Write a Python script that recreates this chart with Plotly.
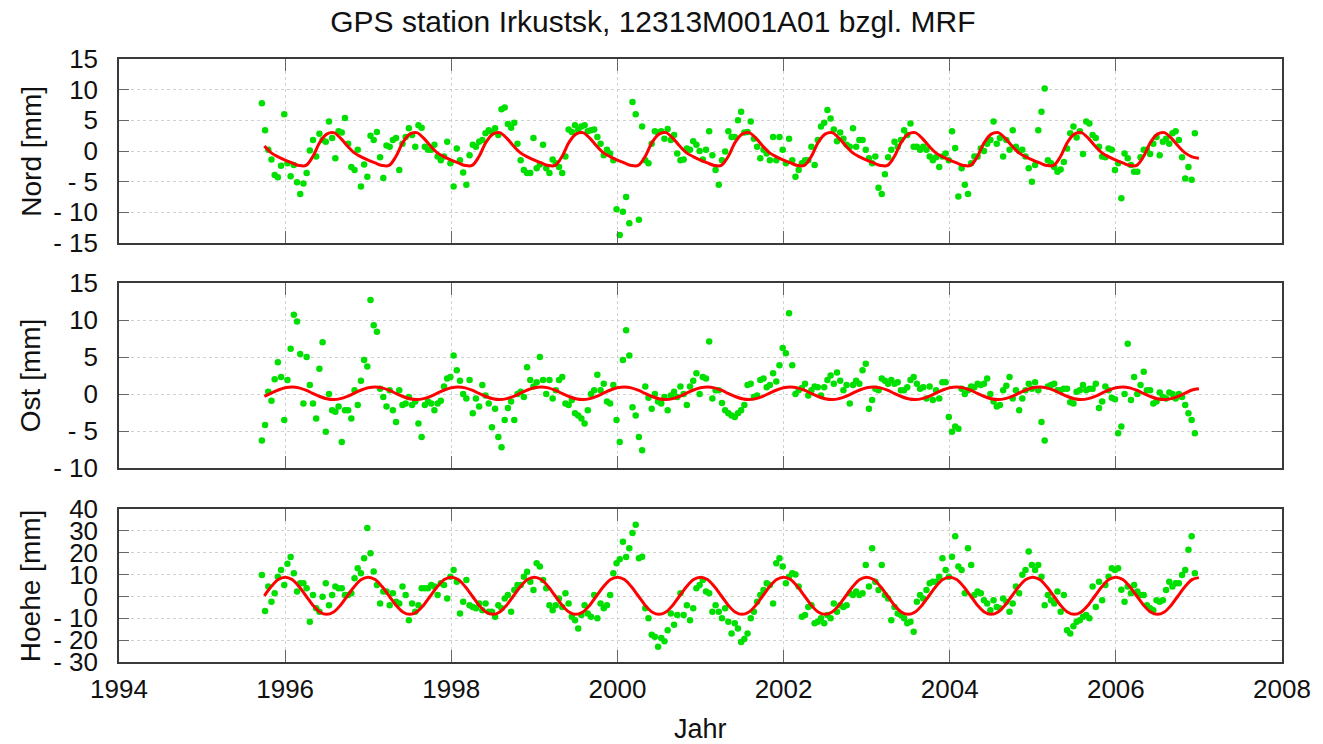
import plotly.graph_objects as go

# ---------------- data ----------------
# observation epochs: start 1995.72, one value every 1/26 year
start_epoch = 1995.72
step_years = 1.0 / 26.0

nord_mm = [
    # 1995
    7.8, 3.4, 0.2, -1.4, -3.9, -4.3, -2.4, 6.0,
    # 1996
    -2.0, -4.1, -2.3, -5.1, -7.0, -5.3, -3.6, 0.1, 1.8, -0.9, 2.8, 1.8, 1.5, 4.8, 2.1, -1.2,
    3.2, 3.0, 5.4, 1.2, -2.6, -3.1, 0.2, -5.8, -2.2, -4.2,
    # 1997
    2.5, 1.8, 3.1, -1.0, -4.4, 0.9, 0.7, 1.8, 2.1, -3.1, 1.2, 2.3, 3.7, 2.6, 0.7, 4.2,
    3.8, 0.7, 0.2, 0.2, 1.0, -0.9, -1.5, -0.9, 1.5, -2.0,
    # 1998
    -5.8, 0.4, -1.5, -3.5, -5.5, -0.7, 1.0, 0.7, 1.5, 1.8, 2.9, 3.4, 3.1, 3.7, 2.6, 6.8,
    7.1, 4.4, 3.8, 4.6, 1.2, -1.5, -3.1, -3.6, -3.6, 2.1,
    # 1999
    -2.8, -2.2, 1.0, -2.8, -3.6, -1.4, -2.0, -2.6, -3.6, -0.9, 3.5, 3.1, 4.2, 3.4, 4.0, 4.2,
    3.2, 3.4, 3.5, 2.3, 1.2, -0.7, 0.2, -0.4, -1.5, -9.5,
    # 2000
    -13.7, -9.9, -7.5, -11.8, 8.0, 6.0, -11.2, 4.0, -1.5, -2.0, 1.2, 3.2, 3.0, 3.2, 2.0, 3.6,
    1.8, 2.6, -0.4, -1.5, -1.4, 0.4, 0.2, 1.6, 1.0, 0.0,
    # 2001
    -1.4, 0.2, 3.2, -0.7, -3.1, -5.5, -1.5, -0.1, 3.2, 2.3, 2.3, 5.0, 6.4, 3.0, 3.1, 4.8,
    2.0, 0.7, -1.2, 0.2, -0.4, -1.5, 2.3, -1.5, 2.3, 0.2,
    # 2002
    -2.0, 2.0, -1.5, -4.2, -3.1, -2.0, -1.5, -1.5, 0.7, -2.3, 1.8, 4.0, 4.6, 6.7, 5.3, 3.5,
    1.6, 3.0, 2.0, 1.0, 0.7, 3.7, 0.7, 1.8, 1.8, 0.2,
    # 2003
    -1.2, -2.0, -0.9, -6.0, -7.0, -3.8, -1.0, 0.2, 1.5, 0.7, 1.8, 3.4, 2.6, 4.5, 0.7, 0.7,
    0.2, 0.7, 0.2, -0.9, -1.5, -1.0, -2.6, -0.9, -0.4, -1.5,
    # 2004
    3.2, 0.5, -7.4, -2.8, -5.5, -7.0, -2.0, -0.9, -0.9, 0.4, 0.0, 1.2, 1.8, 4.8, 1.2, 2.1,
    -0.9, 1.8, 0.2, 3.4, 0.7, 0.0, 0.2, -0.9, -2.8, -5.0,
    # 2005
    -2.3, 3.4, 6.4, 10.2, -1.5, -2.0, -2.6, -3.4, -3.0, -1.8, 0.4, 2.9, 4.0, 2.2, 3.2, -0.5,
    4.8, 4.5, 2.6, 2.1, 0.7, -0.9, -1.0, 0.4, 0.2, -3.1,
    # 2006
    -2.0, -7.7, -0.4, -1.2, -2.3, -3.4, -3.4, -1.0, 0.2, 0.2, -0.5, 1.2, 2.3, -0.7, 1.5, 2.0,
    1.2, 2.9, 3.2, 1.8, -1.0, -4.5, -2.6, -4.7, 2.9,
]

ost_mm = [
    # 1995
    -6.3, -4.2, 0.3, -0.9, 2.0, 4.3, 2.3, -3.5,
    # 1996
    1.9, 6.1, 10.7, 9.8, 5.4, -1.3, 5.0, 1.2, -1.3, -3.3, 3.4, 7.0, -5.1, 0.0, -2.2, -2.4,
    -1.7, -6.5, -2.2, -2.2, -3.3, 0.5, -1.5, 1.8, 4.6, 3.7,
    # 1997
    12.7, 9.3, 8.4, 0.7, -0.4, -1.7, 0.5, -2.2, -3.8, 0.5, -1.5, -1.3, -0.4, -1.5, -1.0, -4.0,
    -5.8, -1.5, -1.0, -1.3, -2.2, -1.3, -0.9, 1.0, 2.1, 2.3,
    # 1998
    5.2, 3.2, 1.8, 0.0, -0.6, 1.9, -2.6, -0.6, -1.7, 1.2, -0.2, -1.3, -4.5, -2.0, -5.8, -7.2,
    -3.5, -1.9, -1.0, -3.5, 0.0, 0.3, -0.4, 3.6, 1.9, 1.0,
    # 1999
    1.6, 5.0, 1.9, 0.0, 1.9, -0.6, 0.5, 1.9, 2.3, -1.3, -1.5, -0.8, -2.6, -2.9, -3.3, -4.0,
    -2.2, 0.0, 0.5, 2.6, 0.5, 1.4, -1.0, -1.3, 1.2, -3.5,
    # 2000
    -6.5, 4.6, 8.6, 5.2, -1.8, -2.9, -5.8, -7.6, 1.0, -0.5, -2.0, 0.0, -1.0, -1.3, -0.4, -2.2,
    -0.2, 0.3, -0.4, 1.0, 0.0, -1.5, 1.0, 1.8, 2.8, 0.0,
    # 2001
    2.3, 2.1, 7.1, -0.6, 0.5, 0.5, -1.2, -2.2, -2.6, -2.9, -3.1, -2.6, -2.2, -1.5, 1.2, 1.4,
    -0.4, -0.2, 1.9, 2.1, 0.9, 1.2, 2.8, 1.7, 3.9, 6.2,
    # 2002
    5.5, 10.9, 3.9, 0.0, 0.5, 0.8, 1.4, -0.2, 0.5, 1.0, 0.9, -0.2, 0.9, 1.9, 2.5, 1.4,
    2.9, 1.8, 0.5, 1.2, -1.3, 1.2, 1.8, 1.4, 3.2, 4.1,
    # 2003
    -2.0, -0.8, 0.7, 0.5, 2.1, 1.8, 1.4, 1.9, 1.4, 1.6, 0.5, 0.5, 0.9, 1.9, 2.3, 1.4,
    0.7, 0.9, -0.6, 1.0, -0.8, 0.5, -0.6, 1.6, 1.6, -3.1,
    # 2004
    -5.1, -4.4, -4.7, 0.7, 0.0, 0.5, 1.0, 0.9, 1.4, 1.2, 1.4, 2.1, 0.0, -1.0, -1.7, -1.5,
    0.5, 1.1, 2.3, -0.6, 0.5, -2.2, -0.6, 0.5, 1.4, 0.7,
    # 2005
    1.6, 0.5, -3.8, -6.3, 1.0, 1.2, 1.4, 0.5, 0.5, 0.7, 0.7, -1.1, -1.3, 0.3, 0.5, 1.2,
    0.5, 0.7, 0.7, 1.4, -1.9, -1.0, 1.0, 0.5, -0.5, -0.7,
    # 2006
    -5.3, -4.4, 0.0, 6.8, -0.8, 2.3, 0.0, 1.2, 3.0, 0.5, 0.5, -1.3, -1.0, 0.2, -0.4, -0.6,
    0.2, 0.0, -0.6, 0.0, -0.4, -1.5, -2.6, -3.5, -5.3,
]

hoehe_mm = [
    # 1995
    9.8, -6.7, 4.5, -2.4, 1.4, 9.0, 12.1, 5.2,
    # 1996
    15.0, 18.0, 10.6, 2.2, 6.0, 6.0, 3.7, -11.6, 0.6, -5.4, -7.0, -0.1, 6.0, -4.0, 0.6, 4.5,
    3.7, 3.7, 0.6, 0.6, 1.4, 8.3, 12.9, 10.6, 17.5, 31.3,
    # 1997
    19.8, 11.4, 5.2, -3.2, 2.2, 2.2, -4.0, 1.4, -2.4, -3.2, 4.5, 0.6, -10.9, -3.2, -7.0, -4.0,
    3.7, 3.7, 3.7, 5.2, 4.5, 0.6, 6.0, 5.2, -0.9, 9.0,
    # 1998
    12.1, 6.7, -7.8, -2.4, 7.5, -4.0, -4.8, -5.4, -3.2, -6.3, -3.2, -7.0, -7.0, -9.3, -4.0, -5.4,
    -0.9, 0.6, -7.0, 2.9, 5.2, 5.2, 9.0, 11.3, 6.7, 2.9,
    # 1999
    15.2, 13.7, 7.5, 3.7, -4.0, -6.3, -4.0, -0.9, -4.8, 1.4, -3.2, -9.3, -10.9, -14.7, -8.5, -4.0,
    -7.8, -9.3, 0.6, -10.0, -3.2, -5.4, -4.0, 0.6, 10.6, 15.2,
    # 2000
    17.0, 25.0, 18.0, 22.0, 29.0, 32.8, 17.5, 18.2, -5.4, -10.0, -17.5, -18.5, -23.0, -19.0, -20.5, -15.5,
    -7.8, -13.0, -8.5, 1.4, -8.5, -4.0, -10.9, -5.4, 3.7, 5.2,
    # 2001
    7.5, 2.2, 1.4, -7.0, -4.0, -7.0, -10.0, -5.4, -11.6, -17.0, -12.3, -14.7, -20.8, -19.5, -17.0, -10.0,
    -7.0, -2.4, 0.6, 2.9, 6.0, 5.2, -3.2, 15.2, 17.5, 13.7,
    # 2002
    6.0, 9.0, 10.6, 10.0, 4.5, -9.3, -8.5, -4.8, -4.0, -12.3, -11.6, -10.0, -12.3, -8.5, -10.0, -3.2,
    -7.0, -4.0, -4.8, -4.0, 1.4, 0.6, 2.2, 0.6, 1.4, 14.4,
    # 2003
    4.5, 22.0, 6.7, 2.9, 14.4, 0.6, -0.9, -10.9, -4.8, -7.8, -8.5, -10.0, -12.3, -11.6, -16.2, -2.4,
    0.6, -0.9, 2.9, 6.0, 6.7, 6.7, 9.0, 17.5, 12.1, 9.0,
    # 2004
    18.2, 27.5, 13.7, 12.1, 1.4, 22.0, 14.4, 0.6, 2.2, 1.4, -1.7, -3.2, -6.3, -1.7, -4.8, -5.4,
    -0.9, -2.4, -7.0, -3.2, 4.5, 1.4, 9.9, 12.1, 20.5, 14.4,
    # 2005
    12.1, 14.4, 9.0, -4.0, 0.6, -1.7, -3.2, 2.2, -7.0, 0.6, -15.5, -17.0, -13.7, -11.6, -10.9, -9.3,
    -8.5, -10.0, 4.5, -4.8, 6.7, -1.7, 5.2, 9.0, 12.9, 12.1,
    # 2006
    12.9, 3.0, -2.4, 4.5, 1.4, 5.2, 2.2, 0.6, 0.6, -4.0, -5.4, -6.3, -1.7, -2.4, -1.7, 2.9,
    6.7, 4.5, 6.0, 6.0, 9.8, 12.1, 21.3, 27.5, 10.6,
]

# fitted seasonal model (start 1995.75, monthly)
fit_start = 1995.75
fit_step = 1.0 / 12.0

nord_fit = [
    0.8, -0.3, -0.95,
    -1.5, -1.95, -2.35, -2.35, -0.9, 1.4, 2.75, 3.0, 2.1, 0.8, -0.3, -0.95,
    -1.5, -1.95, -2.35, -2.35, -0.9, 1.4, 2.75, 3.0, 2.1, 0.8, -0.3, -0.95,
    -1.5, -1.95, -2.35, -2.35, -0.9, 1.4, 2.75, 3.0, 2.1, 0.8, -0.3, -0.95,
    -1.5, -1.95, -2.35, -2.35, -0.9, 1.4, 2.75, 3.0, 2.1, 0.8, -0.3, -0.95,
    -1.5, -1.95, -2.35, -2.35, -0.9, 1.4, 2.75, 3.0, 2.1, 0.8, -0.3, -0.95,
    -1.5, -1.95, -2.35, -2.35, -0.9, 1.4, 2.75, 3.0, 2.1, 0.8, -0.3, -0.95,
    -1.5, -1.95, -2.35, -2.35, -0.9, 1.4, 2.75, 3.0, 2.1, 0.8, -0.3, -0.95,
    -1.5, -1.95, -2.35, -2.35, -0.9, 1.4, 2.75, 3.0, 2.1, 0.8, -0.3, -0.95,
    -1.5, -1.95, -2.35, -2.35, -0.9, 1.4, 2.75, 3.0, 2.1, 0.8, -0.3, -0.95,
    -1.5, -1.95, -2.35, -2.35, -0.9, 1.4, 2.75, 3.0, 2.1, 0.8, -0.3, -0.95,
    -1.5, -1.95, -2.35, -2.35, -0.9, 1.4, 2.75, 3.0, 2.1, 0.8, -0.3, -0.95,
    -1.2,
]

ost_fit = [
    -0.31, 0.12, 0.54,
    0.84, 0.95, 0.83, 0.51, 0.08, -0.34, -0.64, -0.75, -0.63, -0.31, 0.12, 0.54,
    0.84, 0.95, 0.83, 0.51, 0.08, -0.34, -0.64, -0.75, -0.63, -0.31, 0.12, 0.54,
    0.84, 0.95, 0.83, 0.51, 0.08, -0.34, -0.64, -0.75, -0.63, -0.31, 0.12, 0.54,
    0.84, 0.95, 0.83, 0.51, 0.08, -0.34, -0.64, -0.75, -0.63, -0.31, 0.12, 0.54,
    0.84, 0.95, 0.83, 0.51, 0.08, -0.34, -0.64, -0.75, -0.63, -0.31, 0.12, 0.54,
    0.84, 0.95, 0.83, 0.51, 0.08, -0.34, -0.64, -0.75, -0.63, -0.31, 0.12, 0.54,
    0.84, 0.95, 0.83, 0.51, 0.08, -0.34, -0.64, -0.75, -0.63, -0.31, 0.12, 0.54,
    0.84, 0.95, 0.83, 0.51, 0.08, -0.34, -0.64, -0.75, -0.63, -0.31, 0.12, 0.54,
    0.84, 0.95, 0.83, 0.51, 0.08, -0.34, -0.64, -0.75, -0.63, -0.31, 0.12, 0.54,
    0.84, 0.95, 0.83, 0.51, 0.08, -0.34, -0.64, -0.75, -0.63, -0.31, 0.12, 0.54,
    0.84, 0.95, 0.83, 0.51, 0.08, -0.34, -0.64, -0.75, -0.63, -0.31, 0.12, 0.54,
    0.7,
]

hoehe_fit = [
    0.3, 4.5, 7.7,
    8.8, 7.7, 4.5, 0.3, -4.0, -7.1, -8.2, -7.1, -4.0, 0.3, 4.5, 7.7,
    8.8, 7.7, 4.5, 0.3, -4.0, -7.1, -8.2, -7.1, -4.0, 0.3, 4.5, 7.7,
    8.8, 7.7, 4.5, 0.3, -4.0, -7.1, -8.2, -7.1, -4.0, 0.3, 4.5, 7.7,
    8.8, 7.7, 4.5, 0.3, -4.0, -7.1, -8.2, -7.1, -4.0, 0.3, 4.5, 7.7,
    8.8, 7.7, 4.5, 0.3, -4.0, -7.1, -8.2, -7.1, -4.0, 0.3, 4.5, 7.7,
    8.8, 7.7, 4.5, 0.3, -4.0, -7.1, -8.2, -7.1, -4.0, 0.3, 4.5, 7.7,
    8.8, 7.7, 4.5, 0.3, -4.0, -7.1, -8.2, -7.1, -4.0, 0.3, 4.5, 7.7,
    8.8, 7.7, 4.5, 0.3, -4.0, -7.1, -8.2, -7.1, -4.0, 0.3, 4.5, 7.7,
    8.8, 7.7, 4.5, 0.3, -4.0, -7.1, -8.2, -7.1, -4.0, 0.3, 4.5, 7.7,
    8.8, 7.7, 4.5, 0.3, -4.0, -7.1, -8.2, -7.1, -4.0, 0.3, 4.5, 7.7,
    8.8, 7.7, 4.5, 0.3, -4.0, -7.1, -8.2, -7.1, -4.0, 0.3, 4.5, 7.7,
    8.6,
]

panel_titles = ["Nord [mm]", "Ost [mm]", "Hoehe [mm]"]
nord_ticks = [-15, -10, -5, 0, 5, 10, 15]
ost_ticks = [-10, -5, 0, 5, 10, 15]
hoehe_ticks = [-30, -20, -10, 0, 10, 20, 30, 40]
year_ticks = [1994, 1996, 1998, 2000, 2002, 2004, 2006, 2008]
title_text = "GPS station Irkustsk, 12313M001A01 bzgl. MRF"
xlabel_text = "Jahr"

# ---------------- figure ----------------
def epochs(n, t0, dt):
    return [t0 + i * dt for i in range(n)]

def labels(vals):
    return [("- " + str(abs(v))) if v < 0 else str(v) for v in vals]

FONT = "Liberation Sans, Arial, sans-serif"
GREEN = "#00e000"
RED = "#ff0000"
GRID = "#d2d2d2"
AXC = "#3a3a3a"
TXT = "#111111"

fig = go.Figure()
series = [(nord_mm, nord_fit, "y"), (ost_mm, ost_fit, "y2"), (hoehe_mm, hoehe_fit, "y3")]
xrefs = ["x", "x2", "x3"]
for (obs, fit, yref), xr in zip(series, xrefs):
    fig.add_trace(go.Scatter(x=epochs(len(obs), start_epoch, step_years), y=obs, mode="markers",
                             marker=dict(color=GREEN, size=6.5), xaxis=xr, yaxis=yref,
                             showlegend=False, hoverinfo="x+y"))
    fig.add_trace(go.Scatter(x=epochs(len(fit), fit_start, fit_step), y=fit, mode="lines",
                             line=dict(color=RED, width=3, shape="spline", smoothing=1.0),
                             xaxis=xr, yaxis=yref, showlegend=False))

H = 744.0
top_px, bot_px = 59.0, 662.0
ph = bot_px - top_px
def dom(a, b):  # pixel top, pixel bottom -> paper domain
    return [(bot_px - b) / ph, (bot_px - a) / ph]

doms = [dom(59, 243), dom(283, 468), dom(509, 662)]

xcommon = dict(range=[1994, 2008], tickvals=year_ticks, ticktext=[str(v) for v in year_ticks],
               showgrid=True, gridcolor=GRID, griddash="dot", gridwidth=1,
               showline=True, linecolor=AXC, linewidth=1.5, mirror="allticks",
               ticks="inside", ticklen=12, tickcolor="#666666", tickwidth=1.2,
               zeroline=False, tickfont=dict(family=FONT, size=26, color=TXT))
ycommon = dict(showgrid=True, gridcolor=GRID, griddash="dot", gridwidth=1,
               showline=True, linecolor=AXC, linewidth=1.5, mirror="allticks",
               ticks="inside", ticklen=10, tickcolor="#666666", tickwidth=1.2,
               zeroline=False, tickfont=dict(family=FONT, size=26, color=TXT),
               ticklabelstandoff=14)

ytick_sets = [nord_ticks, ost_ticks, hoehe_ticks]
yranges = [[-15, 15], [-10, 15], [-30, 40]]
layout = dict(
    width=1323, height=744, autosize=False,
    margin=dict(l=119, r=32, t=59, b=82),
    paper_bgcolor="white", plot_bgcolor="white",
    font=dict(family=FONT, color=TXT),
    showlegend=False,
)
for i in range(3):
    xn = "xaxis" if i == 0 else f"xaxis{i+1}"
    yn = "yaxis" if i == 0 else f"yaxis{i+1}"
    xa = dict(xcommon)
    xa["anchor"] = "y" if i == 0 else f"y{i+1}"
    xa["showticklabels"] = (i == 2)
    xa["ticklabelstandoff"] = 3
    if i < 2:
        xa["matches"] = "x3"
    ya = dict(ycommon)
    ya["anchor"] = "x" if i == 0 else f"x{i+1}"
    ya["domain"] = doms[i]
    ya["range"] = yranges[i]
    ya["tickvals"] = ytick_sets[i]
    ya["ticktext"] = labels(ytick_sets[i])
    layout[xn] = xa
    layout[yn] = ya

annotations = []
for i in range(3):
    annotations.append(dict(text=panel_titles[i], xref="paper", yref="paper",
                            x=(30 - 119) / 1172.0, y=sum(doms[i]) / 2, textangle=-90,
                            showarrow=False, xanchor="center", yanchor="middle",
                            font=dict(family=FONT, size=28, color=TXT)))
annotations.append(dict(text=xlabel_text, xref="paper", yref="paper",
                        x=(705 - 119) / 1172.0, y=(bot_px - 729) / ph, showarrow=False,
                        xanchor="center", yanchor="middle",
                        font=dict(family=FONT, size=27, color=TXT)))
layout["annotations"] = annotations
layout["title"] = dict(text=title_text, xref="paper", x=(657 - 119) / 1172.0, xanchor="center",
                       yref="container", y=1 - 21 / H, yanchor="middle",
                       font=dict(family=FONT, size=30, color=TXT))

fig.update_layout(**layout)
fig.write_html("out.html")
